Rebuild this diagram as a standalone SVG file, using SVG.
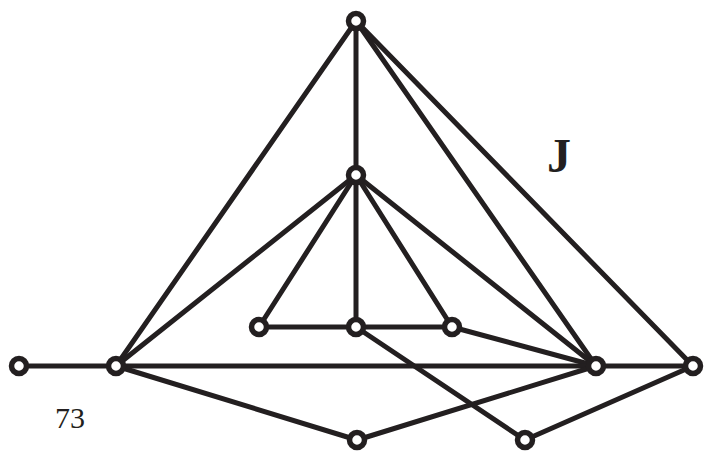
<svg xmlns="http://www.w3.org/2000/svg" width="712" height="452" viewBox="0 0 712 452">
<style>
.e{stroke:#231f20;stroke-width:5;stroke-linecap:round;fill:none}
.n{fill:#fff;stroke:#231f20;stroke-width:5.5}
.t{font-family:"Liberation Serif","Times New Roman",serif;fill:#231f20}
</style>
<rect width="712" height="452" fill="#fff"/>
<g id="connectors">
<line class="e" x1="356" y1="21" x2="116" y2="366"/>
<line class="e" x1="356" y1="21" x2="356" y2="175"/>
<line class="e" x1="356" y1="21" x2="596" y2="366"/>
<line class="e" x1="356" y1="21" x2="693" y2="366"/>
<line class="e" x1="356" y1="175" x2="116" y2="366"/>
<line class="e" x1="356" y1="175" x2="259" y2="327"/>
<line class="e" x1="356" y1="175" x2="356" y2="327"/>
<line class="e" x1="356" y1="175" x2="452" y2="327"/>
<line class="e" x1="356" y1="175" x2="596" y2="366"/>
<line class="e" x1="259" y1="327" x2="452" y2="327"/>
<line class="e" x1="452" y1="327" x2="596" y2="366"/>
<line class="e" x1="356" y1="327" x2="525" y2="440"/>
<line class="e" x1="19" y1="366" x2="693" y2="366"/>
<line class="e" x1="116" y1="366" x2="357" y2="440"/>
<line class="e" x1="357" y1="440" x2="596" y2="366"/>
<line class="e" x1="525" y1="440" x2="693" y2="366"/>
</g>
<g id="n-top"><circle class="n" cx="356" cy="21" r="7.5"/></g>
<g id="n-mid"><circle class="n" cx="356" cy="175" r="7.5"/></g>
<g id="n-il"><circle class="n" cx="259" cy="327" r="7.5"/></g>
<g id="n-ic"><circle class="n" cx="356" cy="327" r="7.5"/></g>
<g id="n-ir"><circle class="n" cx="452" cy="327" r="7.5"/></g>
<g id="n-fl"><circle class="n" cx="19" cy="366" r="7.5"/></g>
<g id="n-l"><circle class="n" cx="116" cy="366" r="7.5"/></g>
<g id="n-r"><circle class="n" cx="596" cy="366" r="7.5"/></g>
<g id="n-fr"><circle class="n" cx="693" cy="366" r="7.5"/></g>
<g id="n-bc"><circle class="n" cx="357" cy="440" r="7.5"/></g>
<g id="n-br"><circle class="n" cx="525" cy="440" r="7.5"/></g>
<text class="t" x="547" y="172" font-size="48" font-weight="bold">J</text>
<text class="t" x="55" y="428" font-size="30">73</text>
</svg>
